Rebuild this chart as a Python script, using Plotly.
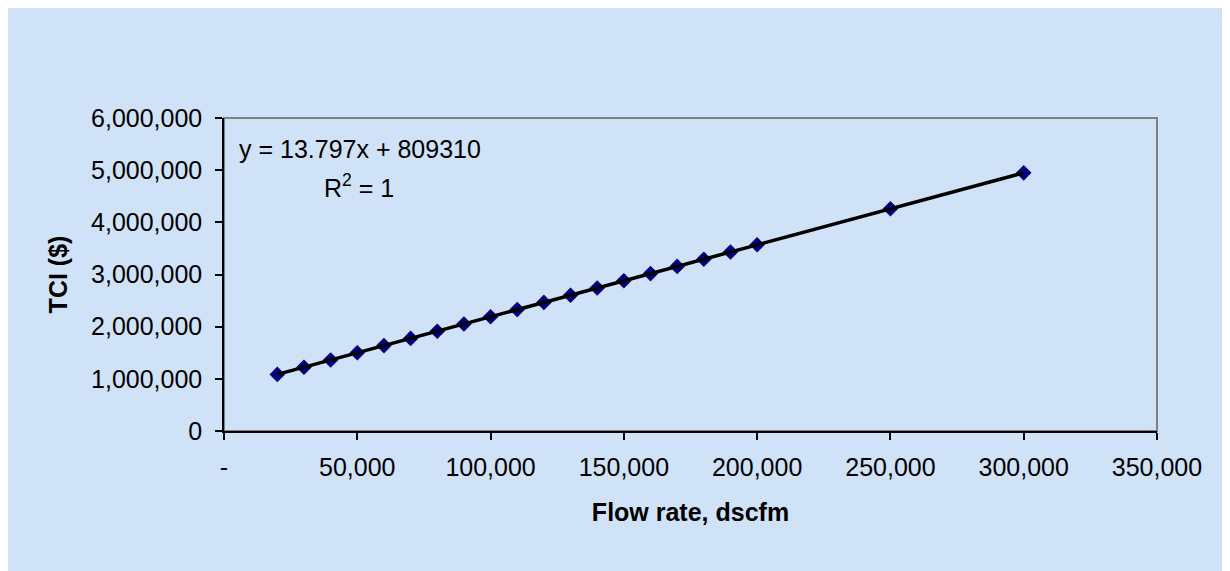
import numpy as np
import plotly.graph_objects as go

# Data
flow_rate = [20000, 30000, 40000, 50000, 60000, 70000, 80000, 90000, 100000,
             110000, 120000, 130000, 140000, 150000, 160000, 170000, 180000,
             190000, 200000, 250000, 300000]
tci = [1085000, 1223000, 1361000, 1499000, 1637000, 1775000, 1913000,
       2051000, 2189000, 2327000, 2465000, 2603000, 2741000, 2879000,
       3017000, 3155000, 3293000, 3431000, 3569000, 4259000, 4949000]

x_tick_vals = [0, 50000, 100000, 150000, 200000, 250000, 300000, 350000]
x_tick_text = ["-", "50,000", "100,000", "150,000", "200,000", "250,000",
               "300,000", "350,000"]
y_tick_vals = [0, 1000000, 2000000, 3000000, 4000000, 5000000, 6000000]
y_tick_text = ["0", "1,000,000", "2,000,000", "3,000,000", "4,000,000",
               "5,000,000", "6,000,000"]

equation_text = "y = 13.797x + 809310"
r2_text = "R<sup>2</sup> = 1"

# linear trendline fitted to the data
slope, intercept = np.polyfit(flow_rate, tci, 1)
trend_x = [min(flow_rate), max(flow_rate)]
trend_y = [slope * v + intercept for v in trend_x]

BG = "#CFE2F7"
FONT = "Liberation Sans, Arial, sans-serif"

W, H = 1230, 571
OFF = 8  # page body margin
ML, MT = 224 - OFF, 118 - OFF
MR = W + OFF - 1157
MB = H + OFF - 431
PW, PH = W - ML - MR, H - MT - MB

def px_x(px):
    return (px - OFF - ML) / PW

def px_y(py):
    return (H + OFF - MB - py) / PH

fig = go.Figure()
fig.add_trace(go.Scatter(
    x=flow_rate, y=tci, mode="markers",
    marker=dict(symbol="diamond", size=12, color="#000080",
                line=dict(width=0)),
    showlegend=False, hoverinfo="x+y"))
fig.add_trace(go.Scatter(
    x=trend_x, y=trend_y, mode="lines",
    line=dict(color="black", width=3.5),
    showlegend=False, hoverinfo="skip"))

fig.update_layout(
    width=W, height=H,
    margin=dict(l=ML, r=MR, t=MT, b=MB, autoexpand=False),
    paper_bgcolor=BG,
    plot_bgcolor=BG,
    font=dict(family=FONT, size=25, color="black"),
    showlegend=False,
    shapes=[
        dict(type="rect", xref="x domain", yref="y domain",
             x0=0, x1=1, y0=0, y1=1,
             fillcolor="rgba(0,0,0,0)", line=dict(color="#808080", width=2),
             layer="below"),
    ],
    annotations=[
        dict(xref="x domain", yref="y domain", x=px_x(360), y=px_y(149),
             text=equation_text, showarrow=False, xanchor="center",
             yanchor="middle", font=dict(size=25)),
        dict(xref="x domain", yref="y domain", x=px_x(359), y=px_y(186),
             text=r2_text, showarrow=False, xanchor="center",
             yanchor="middle", font=dict(size=25)),
    ],
)

fig.update_xaxes(
    range=[0, 350000], tickvals=x_tick_vals, ticktext=x_tick_text,
    showgrid=False, zeroline=False,
    showline=True, linecolor="black", linewidth=1.5,
    ticks="outside", ticklen=7, tickcolor="black", tickwidth=1.5,
    ticklabelstandoff=6,
    title=dict(text="<b>Flow rate, dscfm</b>", standoff=24,
               font=dict(size=25)),
    automargin=False,
)
fig.update_yaxes(
    range=[0, 6000000], tickvals=y_tick_vals, ticktext=y_tick_text,
    showgrid=False, zeroline=False,
    showline=True, linecolor="black", linewidth=1.5,
    ticks="outside", ticklen=7, tickcolor="black", tickwidth=1.5,
    ticklabelstandoff=8,
    title=dict(text="<b>TCI ($)</b>", standoff=16, font=dict(size=25)),
    automargin=False,
)

fig.write_html("out.html")
